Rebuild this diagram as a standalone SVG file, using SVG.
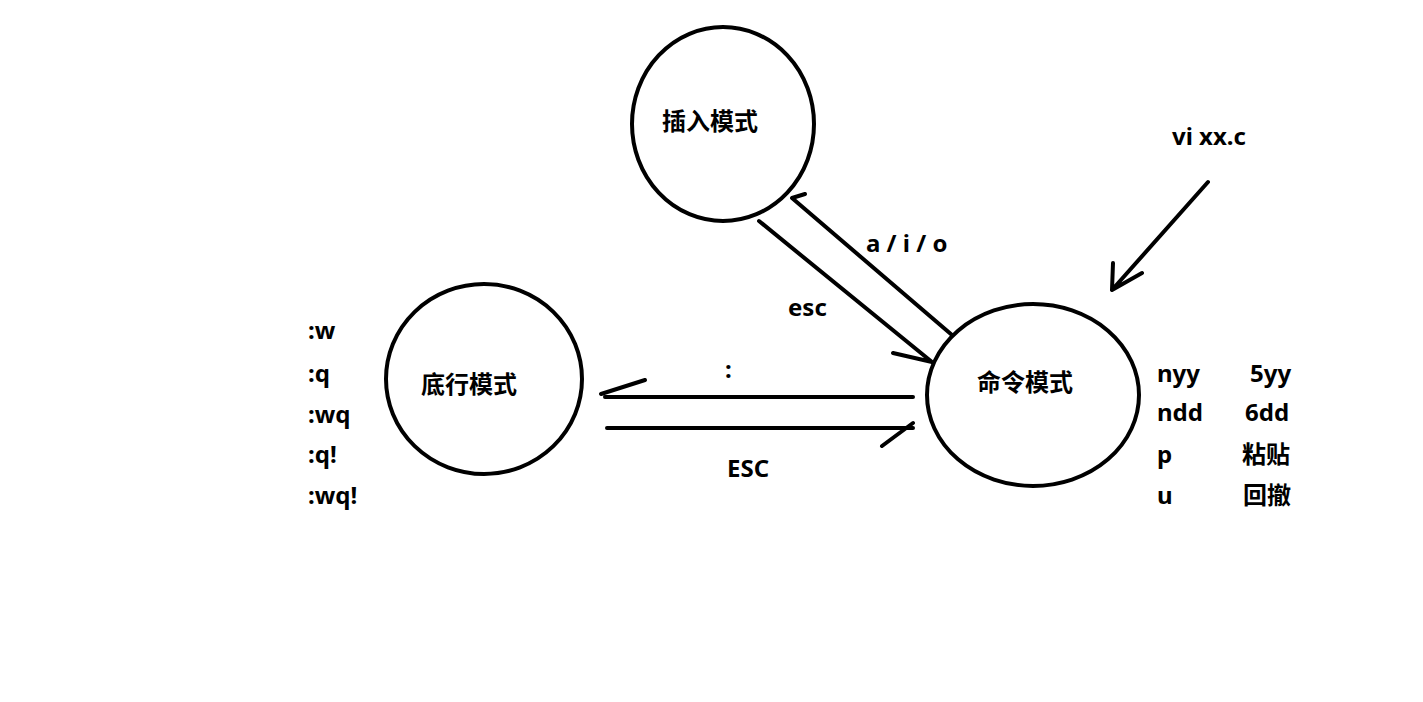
<svg xmlns="http://www.w3.org/2000/svg" width="1423" height="702" viewBox="0 0 1423 702">
<style>
.node{fill:#fff;stroke:#000;stroke-width:4}
.t{font-family:"Noto Sans","Noto Sans CJK SC",sans-serif;font-weight:bold;font-size:24px;fill:#000}
.c{font-family:"Noto Sans CJK SC",sans-serif;font-weight:bold;font-size:24px;fill:#000}
.ln{stroke:#000;stroke-width:4;fill:none;stroke-linecap:round;stroke-linejoin:round}
</style>
<rect width="1423" height="702" fill="#fff"/>
<g id="insert">
<ellipse class="node" cx="723" cy="124" rx="91" ry="97"/>
<text class="c" x="662" y="130">插入模式</text>
</g>
<g id="command">
<ellipse class="node" cx="1033" cy="395" rx="106" ry="91"/>
<text class="c" x="977" y="391">命令模式</text>
</g>
<g id="bottomline">
<ellipse class="node" cx="484" cy="379" rx="98" ry="95"/>
<text class="c" x="421" y="393">底行模式</text>
</g>
<g id="connectors">
<path class="ln" d="M952,335 L792,198 L805,194"/>
<path class="ln" d="M759,221 L932,362 M893,353 L932,362"/>
<path class="ln" d="M913,397 L605,397 M601,394 L645,380"/>
<path class="ln" d="M607,428 L913,428 M913,423 L882,446"/>
<path class="ln" d="M1208,182 L1112,290 M1113,263 L1112,290 L1142,273"/>
</g>
<g id="labels">
<text class="t" x="866" y="252">a / i / o</text>
<text class="t" x="788" y="316">esc</text>
<text class="t" x="725" y="378">:</text>
<text class="t" x="727" y="477">ESC</text>
<text class="t" x="1172" y="145">vi xx.c</text>
</g>
<g id="bottom-commands">
<text class="t" x="308" y="339">:w</text>
<text class="t" x="308" y="382">:q</text>
<text class="t" x="308" y="423">:wq</text>
<text class="t" x="308" y="463">:q!</text>
<text class="t" x="308" y="504">:wq!</text>
</g>
<g id="command-keys">
<text class="t" x="1157" y="382">nyy</text>
<text class="t" x="1250" y="382">5yy</text>
<text class="t" x="1157" y="421">ndd</text>
<text class="t" x="1245" y="421">6dd</text>
<text class="t" x="1157" y="463">p</text>
<text class="c" x="1242" y="463">粘贴</text>
<text class="t" x="1157" y="504">u</text>
<text class="c" x="1243" y="504">回撤</text>
</g>
</svg>
